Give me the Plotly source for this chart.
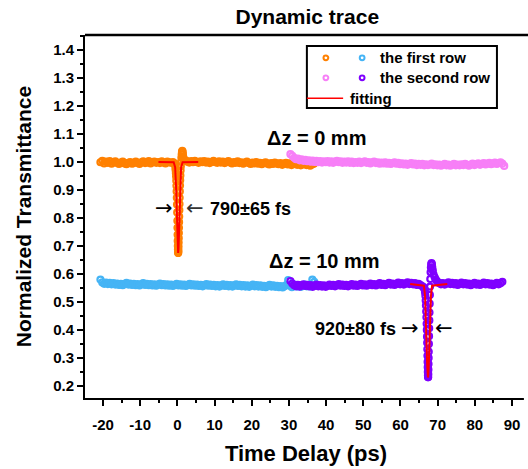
import plotly.graph_objects as go

# ---------------- data ----------------
STEP = 0.5

# Δz = 0 mm, first row (orange)
orange_pre_start = -20.7
orange_pre_y = [0.999, 1.004, 0.995, 1.001, 0.997, 1.003, 0.994, 0.999, 1.002, 0.996,
                0.993, 0.998, 1.001, 0.995, 0.992, 0.997, 1.000, 0.994, 0.996, 1.001,
                0.997, 0.993, 0.999, 1.002, 0.996, 0.998, 1.003, 0.995, 0.999, 1.001,
                0.997, 1.000, 0.996, 1.002, 0.998, 0.995, 1.001, 0.999, 0.997, 1.000]
orange_dip_x = [-0.8, -0.6, -0.5, -0.45, -0.4, -0.35, -0.3, -0.25, -0.2, -0.15,
                -0.1, -0.05, 0.0, 0.03, 0.06, 0.09, 0.12, 0.15, 0.18, 0.21,
                0.24, 0.27, 0.30, 0.33, 0.36, 0.39, 0.42, 0.45, 0.48, 0.52,
                0.56, 0.60, 0.65, 0.70, 0.75, 0.80, 0.86, 0.92, 1.0, 1.08,
                1.16, 1.24, 1.32, 1.40, 1.48, 1.56, 1.66, 1.8]
orange_dip_y = [0.995, 0.988, 0.978, 0.970, 0.960, 0.948, 0.933, 0.915, 0.895, 0.872,
                0.848, 0.820, 0.790, 0.765, 0.740, 0.718, 0.700, 0.688, 0.679, 0.675,
                0.678, 0.686, 0.698, 0.712, 0.728, 0.746, 0.765, 0.785, 0.805, 0.828,
                0.850, 0.872, 0.895, 0.916, 0.935, 0.952, 0.970, 0.985, 1.000, 1.015,
                1.027, 1.036, 1.040, 1.036, 1.028, 1.018, 1.010, 1.005]
orange_post_start = 2.2
orange_post_y = [1.006, 1.001, 0.998, 1.003, 0.999, 1.004, 1.000, 0.997, 1.002, 0.999,
                 1.003, 0.998, 1.001, 0.996, 1.000, 1.004, 0.999, 0.997, 1.002, 0.998,
                 1.001, 0.996, 0.999, 1.003, 0.998, 0.995, 1.000, 0.997, 1.002, 0.996,
                 0.999, 0.994, 0.998, 1.001, 0.996, 0.993, 0.998, 0.995, 1.000, 0.994,
                 0.997, 0.992, 0.996, 0.999, 0.994, 0.991, 0.996, 0.993, 0.998, 0.995,
                 0.992, 0.996, 0.990, 0.994, 0.997, 0.991, 0.995, 0.989, 0.993, 0.996,
                 0.990, 0.994, 0.988, 0.992, 0.995, 0.989, 0.993, 0.987, 0.991, 0.994]

# Δz = 0 mm, second row (pink)
pink_start = 30.4
pink_y = [1.028, 1.022, 1.015, 1.010, 1.012, 1.006, 1.009, 1.004, 1.008, 1.003,
          1.006, 1.001, 1.005, 1.000, 1.004, 0.999, 1.003, 0.998, 1.002, 0.999,
          1.003, 0.998, 1.002, 0.997, 1.001, 1.004, 0.999, 1.002, 0.997, 1.001,
          0.998, 1.002, 0.997, 1.001, 0.996, 1.000, 0.997, 1.001, 0.996, 0.999,
          1.002, 0.997, 1.000, 0.995, 0.999, 1.001, 0.996, 0.999, 0.994, 0.998,
          0.995, 0.999, 0.994, 0.997, 0.993, 0.996, 0.999, 0.994, 0.997, 0.992,
          0.995, 0.991, 0.994, 0.990, 0.993, 0.996, 0.991, 0.994, 0.989, 0.993,
          0.990, 0.993, 0.988, 0.992, 0.989, 0.991, 0.994, 0.989, 0.992, 0.988,
          0.991, 0.987, 0.990, 0.993, 0.988, 0.991, 0.987, 0.990, 0.993, 0.988,
          0.991, 0.988, 0.992, 0.989, 0.993, 0.990, 0.987, 0.991, 0.994, 0.989,
          0.992, 0.995, 0.990, 0.993, 0.996, 0.991, 0.994, 0.997, 0.992, 0.995,
          0.998, 0.993, 0.996, 0.999, 0.994, 0.986]

# Δz = 10 mm, first row (light blue)
blue_start = -20.7
blue_y = [0.580, 0.570, 0.565, 0.569, 0.564, 0.568, 0.563, 0.567, 0.562, 0.566,
          0.561, 0.565, 0.560, 0.564, 0.568, 0.562, 0.566, 0.561, 0.565, 0.560,
          0.564, 0.559, 0.563, 0.567, 0.561, 0.565, 0.560, 0.564, 0.559, 0.563,
          0.558, 0.562, 0.566, 0.560, 0.564, 0.559, 0.563, 0.558, 0.562, 0.557,
          0.561, 0.565, 0.559, 0.563, 0.558, 0.562, 0.557, 0.561, 0.565, 0.559,
          0.563, 0.558, 0.562, 0.557, 0.561, 0.556, 0.560, 0.564, 0.558, 0.562,
          0.557, 0.561, 0.556, 0.560, 0.555, 0.559, 0.563, 0.557, 0.561, 0.556,
          0.560, 0.555, 0.559, 0.563, 0.557, 0.561, 0.556, 0.560, 0.555, 0.559,
          0.554, 0.558, 0.562, 0.556, 0.560, 0.555, 0.559, 0.554, 0.558, 0.553,
          0.557, 0.561, 0.555, 0.559, 0.554, 0.558, 0.553, 0.557, 0.552, 0.556,
          0.560, 0.578, 0.558, 0.553, 0.557, 0.561, 0.555, 0.559, 0.554, 0.558,
          0.562, 0.556, 0.560, 0.555, 0.580, 0.572, 0.559]

# Δz = 10 mm, second row (purple)
purple_pre_start = 30.4
purple_pre_y = [0.575, 0.566, 0.560, 0.556, 0.561, 0.555, 0.559, 0.563, 0.557, 0.561,
                0.556, 0.560, 0.554, 0.558, 0.562, 0.556, 0.560, 0.555, 0.559, 0.554,
                0.558, 0.562, 0.557, 0.561, 0.556, 0.560, 0.564, 0.558, 0.562, 0.557,
                0.561, 0.556, 0.560, 0.564, 0.558, 0.562, 0.557, 0.561, 0.565, 0.559,
                0.563, 0.558, 0.562, 0.566, 0.560, 0.564, 0.559, 0.563, 0.567, 0.561,
                0.565, 0.560, 0.564, 0.568, 0.562, 0.566, 0.561, 0.565, 0.569, 0.563,
                0.567, 0.562, 0.566, 0.570, 0.564, 0.568, 0.563, 0.567, 0.561, 0.565,
                0.560, 0.556]
purple_dip_x = [66.2, 66.45, 66.6, 66.7, 66.78, 66.85, 66.92, 66.98, 67.04, 67.09,
                67.14, 67.18, 67.22, 67.26, 67.3, 67.33, 67.36, 67.39, 67.42, 67.45,
                67.48, 67.51, 67.54, 67.57, 67.6, 67.64, 67.68, 67.72, 67.76, 67.8,
                67.85, 67.9, 67.96, 68.02, 68.1, 68.18, 68.27, 68.36, 68.45, 68.55,
                68.7, 68.9, 69.2, 69.5, 69.8, 70.1]
purple_dip_y = [0.552, 0.546, 0.535, 0.522, 0.505, 0.487, 0.466, 0.445, 0.422, 0.400,
                0.376, 0.354, 0.331, 0.308, 0.286, 0.267, 0.250, 0.238, 0.231, 0.232,
                0.242, 0.258, 0.278, 0.300, 0.322, 0.350, 0.378, 0.406, 0.434, 0.462,
                0.494, 0.525, 0.555, 0.582, 0.606, 0.623, 0.634, 0.639, 0.634, 0.624,
                0.612, 0.598, 0.588, 0.580, 0.574, 0.570]
purple_post_start = 70.4
purple_post_y = [0.568, 0.563, 0.567, 0.562, 0.566, 0.570, 0.564, 0.568, 0.563, 0.567,
                 0.561, 0.565, 0.569, 0.563, 0.567, 0.562, 0.566, 0.560, 0.564, 0.568,
                 0.562, 0.566, 0.561, 0.565, 0.569, 0.563, 0.567, 0.562, 0.566, 0.560,
                 0.564, 0.568, 0.563, 0.567, 0.572]

# Gaussian fits (red)
fit0_x = [-5.1, -1.0, -0.6, -0.4, -0.3, -0.2, -0.1, 0.0, 0.1, 0.2,
          0.3, 0.4, 0.5, 0.6, 0.7, 0.8, 1.0, 1.4, 5.6]
fit0_y = [1.0, 0.9995, 0.981, 0.935, 0.893, 0.841, 0.782, 0.728, 0.689, 0.675,
          0.689, 0.728, 0.782, 0.841, 0.893, 0.935, 0.981, 0.9995, 1.0]
fit10_x = [62.6, 66.3, 66.6, 66.8, 66.9, 67.0, 67.1, 67.2, 67.3, 67.4,
           67.5, 67.6, 67.7, 67.8, 67.9, 68.0, 68.2, 68.5, 72.6]
fit10_y = [0.564, 0.558, 0.523, 0.462, 0.417, 0.367, 0.315, 0.271, 0.241, 0.230,
           0.241, 0.271, 0.315, 0.367, 0.417, 0.462, 0.523, 0.558, 0.564]

x_ticks = [-20, -10, 0, 10, 20, 30, 40, 50, 60, 70, 80, 90]
x_ticktext = ["-20", "-10", "0", "10", "20", "30", "40", "50", "60", "70", "80", "90"]
y_ticks = [0.2, 0.3, 0.4, 0.5, 0.6, 0.7, 0.8, 0.9, 1.0, 1.1, 1.2, 1.3, 1.4]


def grid(start, values):
    return [round(start + STEP * i, 3) for i in range(len(values))]


orange_x = grid(orange_pre_start, orange_pre_y) + orange_dip_x + grid(orange_post_start, orange_post_y)
orange_y = orange_pre_y + orange_dip_y + orange_post_y
pink_x = grid(pink_start, pink_y)
blue_x = grid(blue_start, blue_y)
purple_x = grid(purple_pre_start, purple_pre_y) + purple_dip_x + grid(purple_post_start, purple_post_y)
purple_y = purple_pre_y + purple_dip_y + purple_post_y

# ---------------- style ----------------
FONT = "Liberation Sans, Arial, sans-serif"
ARROW_FONT = "DejaVu Sans, sans-serif"
C_OR = "#FF8000"
C_PK = "#F77FF7"
C_BL = "#45B4F5"
C_PU = "#7F00FF"
C_RED = "#FF0000"


def mk(color):
    return dict(symbol="circle-open", size=6, color=color, line=dict(width=2.2, color=color))


fig = go.Figure()
fig.add_trace(go.Scatter(x=orange_x, y=orange_y, mode="markers", marker=mk(C_OR), showlegend=False))
fig.add_trace(go.Scatter(x=blue_x, y=blue_y, mode="markers", marker=mk(C_BL), showlegend=False))
fig.add_trace(go.Scatter(x=pink_x, y=pink_y, mode="markers", marker=mk(C_PK), showlegend=False))
fig.add_trace(go.Scatter(x=purple_x, y=purple_y, mode="markers", marker=mk(C_PU), showlegend=False))
fig.add_trace(go.Scatter(x=fit0_x, y=fit0_y, mode="lines", line=dict(color=C_RED, width=2), showlegend=False))
fig.add_trace(go.Scatter(x=fit10_x, y=fit10_y, mode="lines", line=dict(color=C_RED, width=2), showlegend=False))

# ---------------- custom legend (paper coords) ----------------
W_PLOT, H_PLOT = 442.0, 363.0
shapes = [
    # mask along the right page edge
    dict(type="rect", xref="paper", yref="paper", x0=0.993, x1=1.01, y0=-0.01, y1=0.99,
         line=dict(width=0), fillcolor="white", layer="above"),
    # top frame line (extends to the right edge of the page)
    dict(type="line", xref="paper", yref="paper", x0=0, x1=1.01, y0=1, y1=1,
         line=dict(color="black", width=2.5), layer="above"),
    dict(type="rect", xref="paper", yref="paper", x0=0.502, x1=0.932, y0=0.799, y1=0.970,
         line=dict(color="black", width=2), fillcolor="white", layer="above"),
]
rx, ry = 2.4 / W_PLOT, 2.4 / H_PLOT
for cx, cy, col in [(0.545, 0.937, C_OR), (0.627, 0.937, C_BL), (0.545, 0.882, C_PK), (0.627, 0.882, C_PU)]:
    shapes.append(dict(type="circle", xref="paper", yref="paper", x0=cx - rx, x1=cx + rx,
                       y0=cy - ry, y1=cy + ry, line=dict(color=col, width=2), layer="above"))
shapes.append(dict(type="line", xref="paper", yref="paper", x0=0.502, x1=0.584, y0=0.826, y1=0.826,
                   line=dict(color=C_RED, width=1.5), layer="above"))

annos = [
    dict(text="the first row", x=0.663, y=0.937, xref="paper", yref="paper", xanchor="left", yanchor="middle",
         showarrow=False, font=dict(size=15, family=FONT, color="black", weight="bold")),
    dict(text="the second row", x=0.663, y=0.882, xref="paper", yref="paper", xanchor="left", yanchor="middle",
         showarrow=False, font=dict(size=15, family=FONT, color="black", weight="bold")),
    dict(text="fitting", x=0.595, y=0.826, xref="paper", yref="paper", xanchor="left", yanchor="middle",
         showarrow=False, font=dict(size=15, family=FONT, color="black", weight="bold")),
    dict(text="Δz = 0 mm", x=23.6, y=1.087, xanchor="left", yanchor="middle", showarrow=False,
         font=dict(size=20, family=FONT, color="black", weight="bold")),
    dict(text="Δz = 10 mm", x=24.0, y=0.648, xanchor="left", yanchor="middle", showarrow=False,
         font=dict(size=20, family=FONT, color="black", weight="bold")),
    dict(text="790±65 fs", x=8.2, y=0.832, xanchor="left", yanchor="middle", showarrow=False,
         font=dict(size=18, family=FONT, color="black", weight="bold")),
    dict(text="→", x=-3.7, y=0.834, xanchor="center", yanchor="middle", showarrow=False,
         font=dict(size=21, family=ARROW_FONT, color="black")),
    dict(text="←", x=4.6, y=0.834, xanchor="center", yanchor="middle", showarrow=False,
         font=dict(size=21, family=ARROW_FONT, color="#333333")),
    dict(text="920±80 fs", x=59.3, y=0.404, xanchor="right", yanchor="middle", showarrow=False,
         font=dict(size=18, family=FONT, color="black", weight="bold")),
    dict(text="→", x=62.6, y=0.406, xanchor="center", yanchor="middle", showarrow=False,
         font=dict(size=21, family=ARROW_FONT, color="black")),
    dict(text="←", x=71.6, y=0.406, xanchor="center", yanchor="middle", showarrow=False,
         font=dict(size=21, family=ARROW_FONT, color="black")),
]

fig.update_layout(
    width=528, height=469,
    margin=dict(l=85, r=1, t=35, b=71),
    paper_bgcolor="white", plot_bgcolor="white",
    title=dict(text="Dynamic trace", x=0.582, xanchor="center", y=0.965, yanchor="middle",
               font=dict(size=21, family=FONT, color="black", weight="bold")),
    shapes=shapes, annotations=annos,
    xaxis=dict(range=[-24.85, 94.03], tickvals=x_ticks, ticktext=x_ticktext, ticks="outside", ticklen=6,
               tickwidth=2, tickcolor="black", showline=True, linewidth=2, linecolor="black", mirror=False,
               showgrid=False, zeroline=False, ticklabelstandoff=6,
               tickfont=dict(size=15, family=FONT, color="black", weight="bold"),
               minor=dict(ticks="outside", ticklen=3, tickwidth=1.5, tickcolor="black", dtick=5, tick0=0),
               title=dict(text="Time Delay (ps)", standoff=14,
                          font=dict(size=22, family=FONT, color="black", weight="bold"))),
    yaxis=dict(range=[0.157, 1.4536], tickvals=y_ticks, ticktext=[f"{v:.1f}" for v in y_ticks],
               ticks="outside", ticklen=6, tickwidth=2,
               tickcolor="black", showline=True, linewidth=2, linecolor="black", mirror=False,
               showgrid=False, zeroline=False,
               tickfont=dict(size=15, family=FONT, color="black", weight="bold"),
               minor=dict(ticks="outside", ticklen=3, tickwidth=1.5, tickcolor="black", dtick=0.05, tick0=0),
               title=dict(text="Normalized Transmittance", standoff=16,
                          font=dict(size=21, family=FONT, color="black", weight="bold"))),
)

fig.write_html("out.html")
